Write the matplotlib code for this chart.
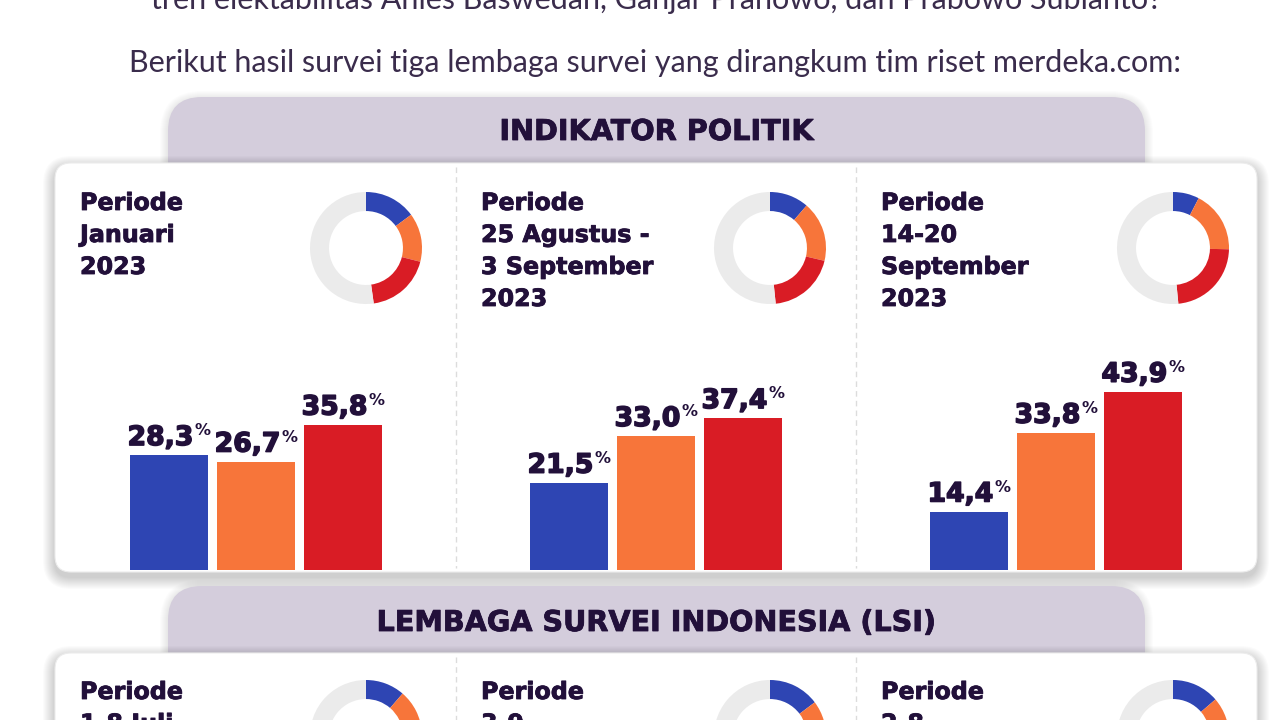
import matplotlib
matplotlib.use("Agg")
import matplotlib.pyplot as plt
from matplotlib.patches import FancyBboxPatch
import matplotlib.patheffects as pe

# ---------------- data ----------------
intro_lines = [
    "tren elektabilitas Anies Baswedan, Ganjar Pranowo, dan Prabowo Subianto?",
    "Berikut hasil survei tiga lembaga survei yang dirangkum tim riset merdeka.com:",
]
section_titles = ["INDIKATOR POLITIK", "LEMBAGA SURVEI INDONESIA (LSI)"]
series_colors = ["#2e45b3", "#f7753a", "#d91c25"]
ring_rest_color = "#ebebeb"

ip_periods = [
    ["Periode", "Januari", "2023"],
    ["Periode", "25 Agustus -", "3 September", "2023"],
    ["Periode", "14-20", "September", "2023"],
]
ip_blue = [28.3, 21.5, 14.4]
ip_orange = [26.7, 33.0, 33.8]
ip_red = [35.8, 37.4, 43.9]

lsi_periods = [["Periode", "1-8 Juli"], ["Periode", "3-9"], ["Periode", "2-8"]]
lsi_blue = [21.5, 28.0, 26.0]      # estimated from visible donut arcs
lsi_orange = [24.0, 22.0, 23.0]    # only partly visible
lsi_red = [36.0, 35.0, 37.0]       # not visible (cut off)
RING_TOTAL = 190.0                 # ring scale used by the donuts

# ---------------- style ----------------
TXT_DARK = "#22103a"
TXT_INTRO = "#3a2c4c"
TAB_COLOR = "#d4cddc"
BOLD_FONT = ["DejaVu Sans"]
INTRO_FONT = ["Lato", "DejaVu Sans"]
HEAVY = [pe.withStroke(linewidth=1.1, foreground=TXT_DARK)]
SEMI = [pe.withStroke(linewidth=0.6, foreground=TXT_DARK)]

W, H = 1280, 720
fig = plt.figure(figsize=(W / 100, H / 100), dpi=100)
fig.patch.set_facecolor("white")
bg = fig.add_axes([0, 0, 1, 1])
bg.set_xlim(0, W)
bg.set_ylim(H, 0)
bg.axis("off")
renderer = fig.canvas.get_renderer()


def frect(x0, y0, x1, y1):
    return [x0 / W, 1 - y1 / H, (x1 - x0) / W, (y1 - y0) / H]


def fit_width(t, target):
    w = t.get_window_extent(renderer).width
    t.set_fontsize(t.get_fontsize() * target / w)
    return t.get_fontsize()


def rbox(x0, y0, x1, y1, r, **kw):
    p = FancyBboxPatch((x0, y0), x1 - x0, y1 - y0,
                       boxstyle=f"round,pad=0,rounding_size={r}", **kw)
    bg.add_patch(p)
    return p


def shadow(x0, y0, x1, y1, r, dy=4, n=10, alpha=0.018):
    for i in range(n, 0, -1):
        rbox(x0 - i, y0 - i + dy, x1 + i, y1 + i + dy, r + i,
             fc="#000000", ec="none", alpha=alpha)


# ---------------- intro text ----------------
t1 = bg.text(655, 72, intro_lines[1], ha="center", va="baseline",
             fontsize=20, family=INTRO_FONT, color=TXT_INTRO)
fs_intro = fit_width(t1, 1057)
bg.text(656, 9, intro_lines[0], ha="center", va="baseline",
        fontsize=fs_intro, family=INTRO_FONT, color=TXT_INTRO)

# ---------------- sections ----------------
sections = [
    dict(title=section_titles[0], tab_top=97, title_base=140, card_top=163,
         card_bot=572, periods=ip_periods, blue=ip_blue, orange=ip_orange,
         red=ip_red, per_base=210, donut_cy=248, bars=True, title_w=315),
    dict(title=section_titles[1], tab_top=586, title_base=631, card_top=653,
         card_bot=900, periods=lsi_periods, blue=lsi_blue, orange=lsi_orange,
         red=lsi_red, per_base=699, donut_cy=736, bars=False, title_w=560),
]

panel_text_x = [80, 481, 881]
donut_cx = [366, 770, 1173]
bar_left = [130, 530, 930]
divider_x = [456, 856]
BAR_W_PX, BAR_PITCH = 78, 87
PX_PER_PCT = 4.06
BASELINE_Y = 570

tmp = bg.text(0, -100, "Periode", fontsize=19, weight="bold", family=BOLD_FONT)
fs_per = fit_width(tmp, 103)
tmp.remove()
tmp = bg.text(0, -100, "28,3", fontsize=20, weight="bold", family=BOLD_FONT)
fs_num = fit_width(tmp, 66)
tmp.remove()

for s in sections:
    # tab
    shadow(168, s["tab_top"], 1145, s["card_top"] + 40, 34, dy=2, n=8, alpha=0.012)
    rbox(168, s["tab_top"], 1145, s["card_top"] + 40, 34, fc=TAB_COLOR, ec="none")
    tt = bg.text(656, s["title_base"], s["title"], ha="center", va="baseline",
                 fontsize=20, weight="bold", family=BOLD_FONT, color=TXT_DARK,
                 path_effects=SEMI)
    fit_width(tt, s["title_w"] - 2)
    # card
    shadow(55, s["card_top"], 1257, s["card_bot"], 16, dy=5, n=12, alpha=0.016)
    rbox(55, s["card_top"], 1257, s["card_bot"], 16, fc="white", ec="#ececec", lw=0.8)
    for dx in divider_x:
        bg.plot([dx, dx], [s["card_top"] + 4, min(s["card_bot"] - 4, 725)],
                color="#dcdcdc", lw=1, ls=(0, (4, 3)))
    # period texts
    for k in range(3):
        for j, line in enumerate(s["periods"][k]):
            bg.text(panel_text_x[k], s["per_base"] + 32 * j, line, ha="left",
                    va="baseline", fontsize=fs_per, weight="bold",
                    family=BOLD_FONT, color=TXT_DARK, path_effects=SEMI)
    # donuts
    for k in range(3):
        cx, cy = donut_cx[k], s["donut_cy"]
        vals = [s["blue"][k], s["orange"][k], s["red"][k]]
        dax = fig.add_axes(frect(cx - 56, cy - 56, cx + 56, cy + 56))
        dax.pie(vals + [RING_TOTAL - sum(vals)],
                colors=series_colors + [ring_rest_color],
                startangle=90, counterclock=False, radius=1,
                wedgeprops=dict(width=0.34, edgecolor="none", antialiased=True))
        dax.set_xlim(-1, 1)
        dax.set_ylim(-1, 1)
        dax.axis("off")
    # bars
    if s["bars"]:
        for k in range(3):
            vals = [s["blue"][k], s["orange"][k], s["red"][k]]
            x0 = bar_left[k]
            top = BASELINE_Y - 240
            bax = fig.add_axes(frect(x0, top, x0 + 3 * BAR_PITCH - (BAR_PITCH - BAR_W_PX), BASELINE_Y))
            bw = BAR_W_PX / BAR_PITCH
            bax.bar(range(3), vals, width=bw, color=series_colors)
            bax.set_xlim(-bw / 2, 2 + bw / 2)
            bax.set_ylim(0, 240 / PX_PER_PCT)
            bax.axis("off")
            bax.patch.set_visible(False)
            for i, v in enumerate(vals):
                lab = f"{v:.1f}".replace(".", ",")
                tn = bax.annotate(lab, xy=(i, v), xytext=(0, 10),
                                  textcoords="offset pixels", ha="center",
                                  va="baseline", fontsize=fs_num, weight="bold",
                                  family=BOLD_FONT, color=TXT_DARK,
                                  annotation_clip=False, path_effects=HEAVY)
                fs_pct = 11.5
                tp = bax.annotate("%", xy=(i, v), xytext=(0, 0),
                                  textcoords="offset pixels", ha="left",
                                  va="baseline", fontsize=fs_pct, weight="bold",
                                  family=BOLD_FONT, color=TXT_DARK,
                                  annotation_clip=False)
                wn = tn.get_window_extent(renderer).width
                wp = tp.get_window_extent(renderer).width
                shift = -(wp + 1) / 2
                tn.xyann = (shift, 10)
                dig_h = 0.729 * fs_num / 0.72
                pct_h = 0.729 * fs_pct / 0.72
                tp.xyann = (shift + wn / 2 + 1, 10 + dig_h - pct_h + 2)

fig.savefig("out.png", dpi=100, facecolor="white")
